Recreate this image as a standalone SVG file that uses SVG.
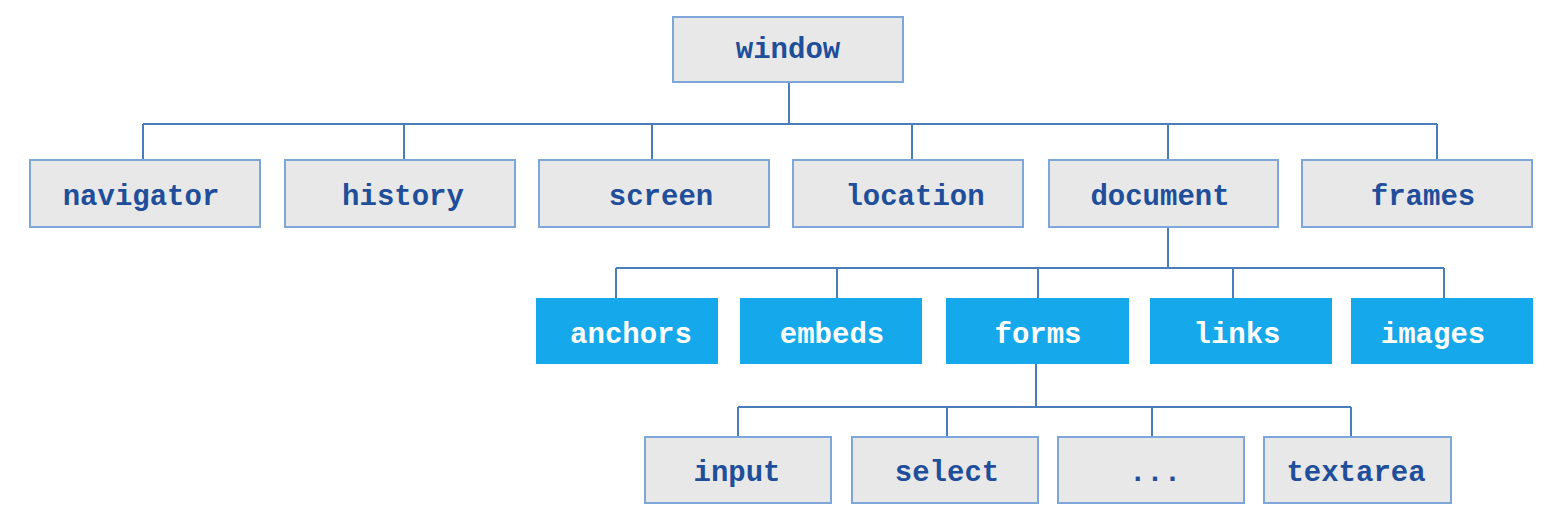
<svg xmlns="http://www.w3.org/2000/svg" width="1564" height="532" viewBox="0 0 1564 532">
<style>
.g{fill:#E8E8E8;stroke:#7FA6D8;stroke-width:2}
.b{fill:#15A9EC;stroke:none}
.t{font-family:"Liberation Mono","DejaVu Sans Mono",monospace;font-size:29px;font-weight:bold;text-anchor:middle;fill:#1F4E9A}
.w{fill:#FFFFFF}
.c{fill:none;stroke:#4A7EBB;stroke-width:2}
</style>
<rect width="1564" height="532" fill="#FFFFFF"/>
<g id="connectors">
<path class="c" d="M789 82V124M143 124H1437M143 124V160M404 124V160M652 124V160M912 124V160M1168 124V160M1437 124V160"/>
<path class="c" d="M1168 227V268M616 268H1444M616 268V298M837 268V298M1038 268V298M1233 268V298M1444 268V298"/>
<path class="c" d="M1036 364V407M738 407H1351M738 407V437M947 407V437M1152 407V437M1351 407V437"/>
</g>
<g id="window"><rect class="g" x="673" y="17" width="230" height="65"/><text class="t" x="788" y="58">window</text></g>
<g id="navigator"><rect class="g" x="30" y="160" width="230" height="67"/><text class="t" x="141" y="205">navigator</text></g>
<g id="history"><rect class="g" x="285" y="160" width="230" height="67"/><text class="t" x="403" y="205">history</text></g>
<g id="screen"><rect class="g" x="539" y="160" width="230" height="67"/><text class="t" x="661" y="205">screen</text></g>
<g id="location"><rect class="g" x="793" y="160" width="230" height="67"/><text class="t" x="915" y="205">location</text></g>
<g id="document"><rect class="g" x="1049" y="160" width="229" height="67"/><text class="t" x="1160" y="205">document</text></g>
<g id="frames"><rect class="g" x="1302" y="160" width="230" height="67"/><text class="t" x="1423" y="205">frames</text></g>
<g id="anchors"><rect class="b" x="536" y="298" width="182" height="66"/><text class="t w" x="631" y="343">anchors</text></g>
<g id="embeds"><rect class="b" x="740" y="298" width="182" height="66"/><text class="t w" x="832" y="343">embeds</text></g>
<g id="forms"><rect class="b" x="946" y="298" width="183" height="66"/><text class="t w" x="1038" y="343">forms</text></g>
<g id="links"><rect class="b" x="1150" y="298" width="182" height="66"/><text class="t w" x="1237" y="343">links</text></g>
<g id="images"><rect class="b" x="1351" y="298" width="182" height="66"/><text class="t w" x="1433" y="343">images</text></g>
<g id="input"><rect class="g" x="645" y="437" width="186" height="66"/><text class="t" x="737" y="481">input</text></g>
<g id="select"><rect class="g" x="852" y="437" width="186" height="66"/><text class="t" x="947" y="481">select</text></g>
<g id="ellipsis"><rect class="g" x="1058" y="437" width="186" height="66"/><text class="t" x="1155" y="481">...</text></g>
<g id="textarea"><rect class="g" x="1264" y="437" width="187" height="66"/><text class="t" x="1356" y="481">textarea</text></g>
</svg>
